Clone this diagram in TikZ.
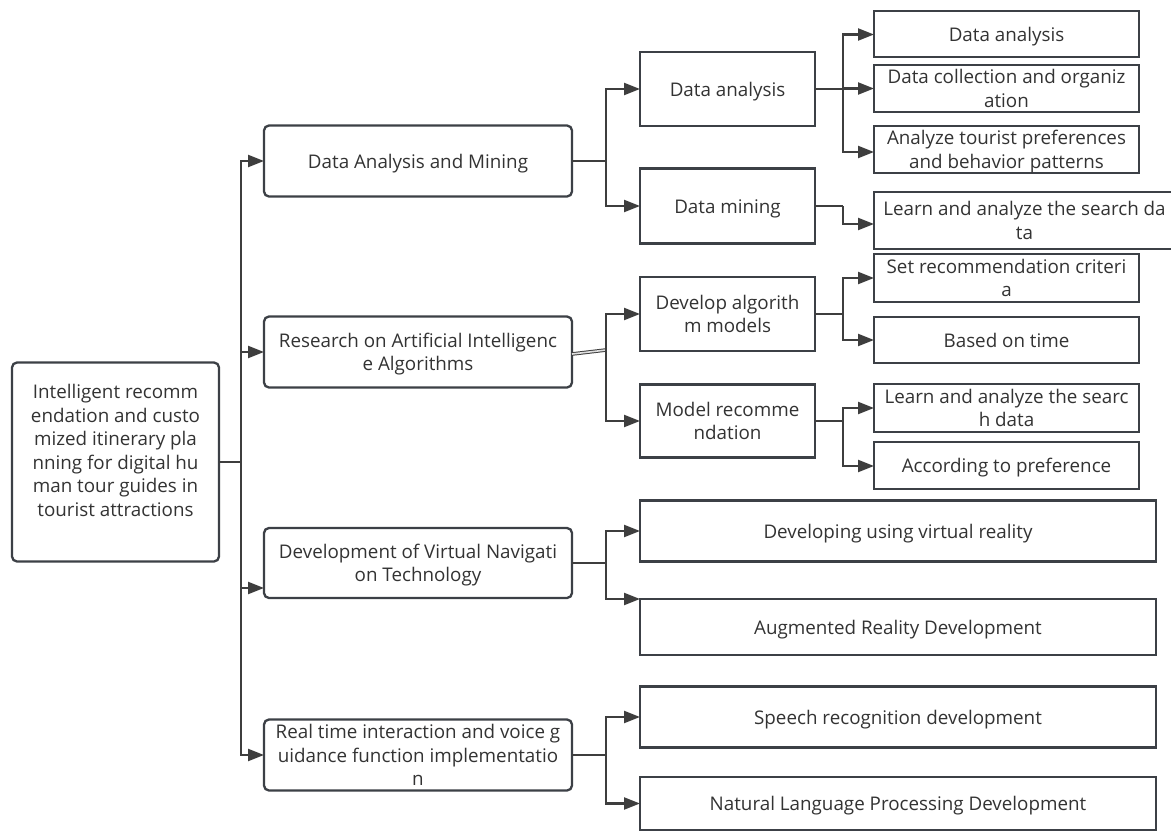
\documentclass[tikz,border=0pt]{standalone}
\usepackage{fontspec}
\setmainfont{Open Sans}
\usetikzlibrary{arrows.meta}
\definecolor{bd}{HTML}{3C4046}
\definecolor{ln}{HTML}{3E3E3E}
\definecolor{tx}{HTML}{333333}
\newcommand{\Tx}[1]{\raisebox{-2.5pt}[\height][\depth]{\begin{tabular}{@{}c@{}}#1\end{tabular}}}
\begin{document}
\begin{tikzpicture}[x=1pt,y=-1pt,
  every node/.style={inner sep=0pt, outer sep=0pt, text=tx, font=\fontsize{18.8}{23.5}\selectfont},
  rbox/.style={draw=bd, line width=2.3pt, rounded corners=5pt},
  sbox/.style={draw=bd, line width=2.3pt},
  conn/.style={draw=ln, line width=2.3pt},
  arr/.style={conn, -{Triangle[length=16pt,width=12pt]}},
]
\useasboundingbox (0,0) rectangle (1171,831);
\fill[white] (0,0) rectangle (1171,831);

% root
\node[rbox, minimum width=207pt, minimum height=199pt] (root) at (115.5,462)
  {\Tx{Intelligent recomm\\endation and custo\\mized itinerary pla\\nning for digital hu\\man tour guides in\\tourist attractions\\ \mbox{}}};

% level 2
\node[rbox, minimum width=308pt, minimum height=71pt] (dam) at (418,161) {\Tx{Data Analysis and Mining}};
\node[rbox, minimum width=308pt, minimum height=71pt] (rai) at (418,352) {\Tx{Research on Artificial Intelligenc\\e Algorithms}};
\node[rbox, minimum width=308pt, minimum height=70pt] (dvn) at (418,563) {\Tx{Development of Virtual Navigati\\on Technology}};
\node[rbox, minimum width=308pt, minimum height=71pt] (rti) at (418,755) {\Tx{Real time interaction and voice g\\uidance function implementatio\\n}};

% level 3
\node[sbox, minimum width=175pt, minimum height=74pt] (da) at (727.5,89) {\Tx{Data analysis}};
\node[sbox, minimum width=175pt, minimum height=75pt] (dm) at (727.5,206) {\Tx{Data mining}};
\node[sbox, minimum width=175pt, minimum height=74pt] (dev) at (727.5,314) {\Tx{Develop algorith\\m models}};
\node[sbox, minimum width=175pt, minimum height=73pt] (mr) at (727.5,421) {\Tx{Model recomme\\ndation}};

\node[sbox, minimum width=516pt, minimum height=61pt] (vr) at (898,531) {\Tx{Developing using virtual reality}};
\node[sbox, minimum width=516pt, minimum height=56pt] (ar) at (898,627) {\Tx{Augmented Reality Development}};
\node[sbox, minimum width=516pt, minimum height=61pt] (sr) at (898,717) {\Tx{Speech recognition development}};
\node[sbox, minimum width=516pt, minimum height=53pt] (nlp) at (898,803.5) {\Tx{Natural Language Processing Development}};

% level 4
\node[sbox, minimum width=265pt, minimum height=46pt] (la) at (1006.5,34) {\Tx{Data analysis}};
\node[sbox, minimum width=265pt, minimum height=47pt] (lb) at (1006.5,88.5) {\Tx{Data collection and organiz\\ation}};
\node[sbox, minimum width=265pt, minimum height=47pt] (lc) at (1006.5,149.5) {\Tx{Analyze tourist preferences\\and behavior patterns}};
\node[sbox, minimum width=301pt, minimum height=57pt] (ld) at (1024.5,220.5) {\Tx{Learn and analyze the search da\\ta}};
\node[sbox, minimum width=265pt, minimum height=48pt] (le) at (1006.5,278) {\Tx{Set recommendation criteri\\a}};
\node[sbox, minimum width=265pt, minimum height=46pt] (lf) at (1006.5,340) {\Tx{Based on time}};
\node[sbox, minimum width=265pt, minimum height=48pt] (lg) at (1006.5,408) {\Tx{Learn and analyze the searc\\h data}};
\node[sbox, minimum width=265pt, minimum height=47pt] (lh) at (1006.5,465.5) {\Tx{According to preference}};

% root -> level 2
\coordinate (tr) at (root.east -| 241,0);
\draw[conn] (root.east) -- (tr);
\draw[arr] (tr) |- (dam.west);
\draw[arr] (tr) |- (rai.west);
\draw[arr] (tr) |- ([yshift=-25pt]dvn.west);
\draw[arr] (tr) |- (rti.west);

% level 2 -> level 3
\coordinate (j1) at (dam.east -| 606,0);
\draw[conn] (dam.east) -- (j1);
\draw[arr] (j1) |- (da.west);
\draw[arr] (j1) |- (dm.west);

\coordinate (j2) at (606,350);
\draw[draw=ln, line width=1pt, double=white!75!gray, double distance=1.6pt] ([yshift=-2pt]rai.east) -- (j2);
\draw[arr] (j2) |- (dev.west);
\draw[arr] (j2) |- (mr.west);

\coordinate (j3) at (dvn.east -| 606,0);
\draw[conn] (dvn.east) -- (j3);
\draw[arr] (j3) |- (vr.west);
\draw[arr] (j3) |- ([yshift=28pt]ar.west);

\coordinate (j4) at (rti.east -| 606,0);
\draw[conn] (rti.east) -- (j4);
\draw[arr] (j4) |- (sr.west);
\draw[arr] (j4) |- (nlp.west);

% level 3 -> level 4
\coordinate (k1) at (da.east -| 843,0);
\draw[conn] (da.east) -- (k1);
\draw[arr] (k1) |- ([yshift=-0.5pt]la.west);
\draw[arr] (k1) |- (lb.west);
\draw[arr] (k1) |- ([yshift=-2.5pt]lc.west);

\coordinate (k2) at (dm.east -| 843,0);
\draw[conn] (dm.east) -- (k2);
\draw[arr] (k2) |- ([yshift=-3.5pt]ld.west);

\coordinate (k3) at (dev.east -| 843,0);
\draw[conn] (dev.east) -- (k3);
\draw[arr] (k3) |- (le.west);
\draw[arr] (k3) |- (lf.west);

\coordinate (k4) at (mr.east -| 843,0);
\draw[conn] (mr.east) -- (k4);
\draw[arr] (k4) |- (lg.west);
\draw[arr] (k4) |- ([yshift=-0.5pt]lh.west);
\end{tikzpicture}
\end{document}
